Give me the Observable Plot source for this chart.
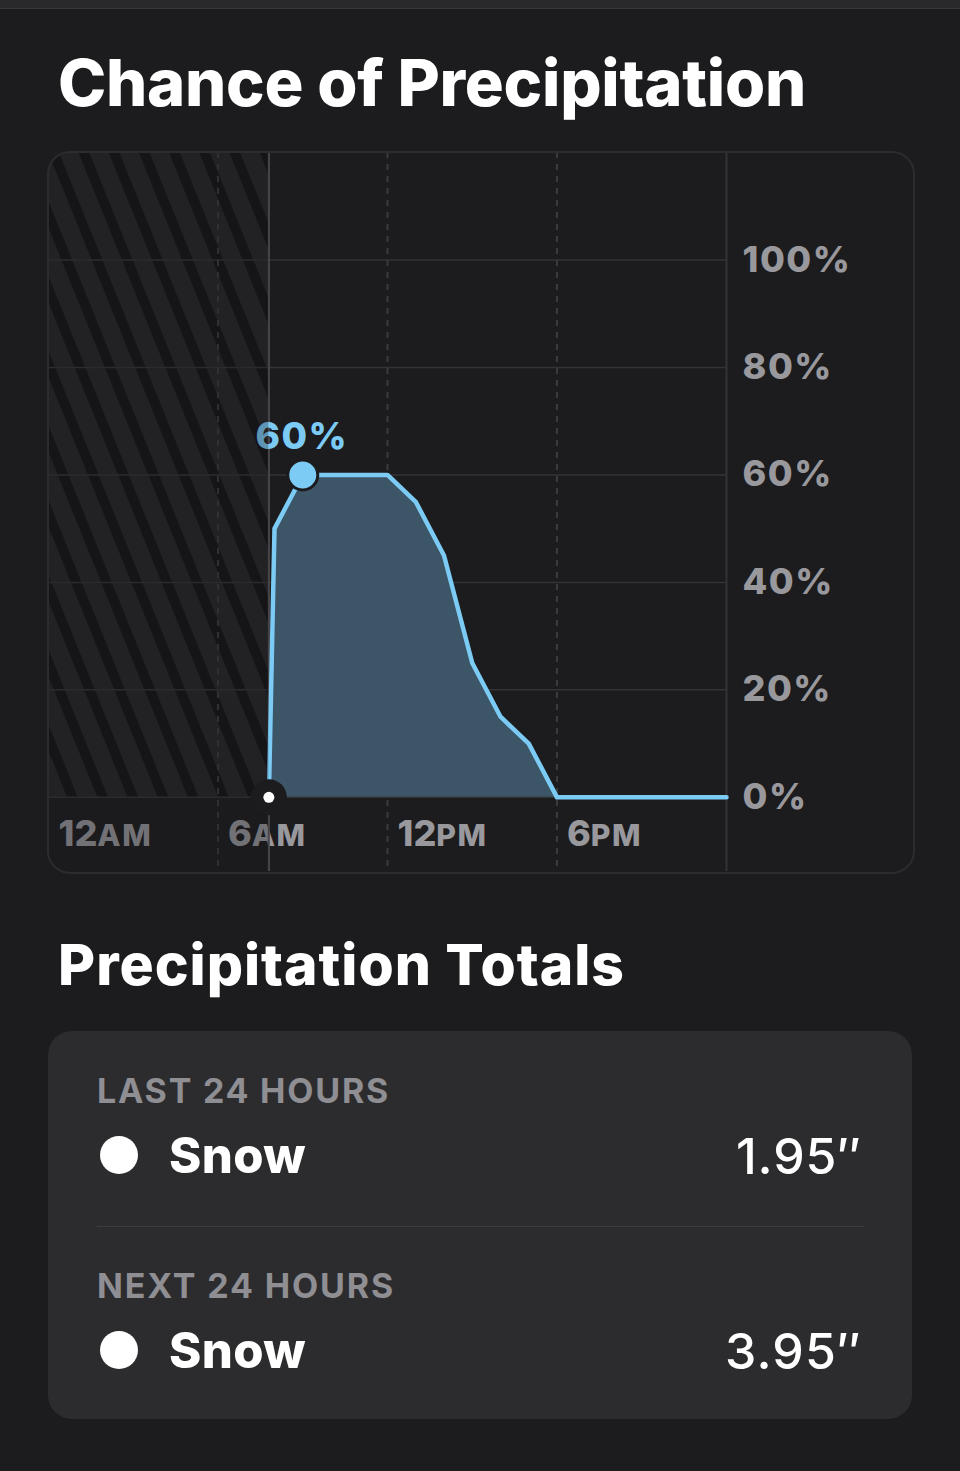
<!DOCTYPE html>
<html>
<head>
<meta charset="utf-8">
<script src="https://cdn.jsdelivr.net/npm/d3@7"></script>
<script src="https://cdn.jsdelivr.net/npm/@observablehq/plot@0.6"></script>
<style>
  html, body { margin: 0; padding: 0; }
  body { width: 960px; height: 1471px; background: #1c1c1e; position: relative; overflow: hidden; font-family: Inter, "Noto Sans", sans-serif; }
  #topbar { position: absolute; left: 0; top: 0; width: 960px; height: 8px; background: #29292b; border-bottom: 1px solid #38383a; }
  #card1 { position: absolute; left: 48px; top: 152px; width: 864px; height: 719px; border-radius: 22px; overflow: hidden; }
  #card1border { position: absolute; left: 47px; top: 151px; width: 864px; height: 719px; border-radius: 23px; border: 2px solid #2c2c2e; pointer-events: none; }
  #card2 { position: absolute; left: 48px; top: 1031px; width: 864px; height: 388px; border-radius: 24px; background: #2c2c2e; }
  .dot { position: absolute; width: 38px; height: 38px; border-radius: 50%; background: #fff; }
  .divider { position: absolute; left: 97px; top: 1226px; width: 767px; height: 1px; background: #3d3d40; }
  svg { display: block; }
</style>
</head>
<body>
<div id="topbar"></div>
<div id="card1"></div>
<div id="card1border"></div>
<div id="card2"></div>
<script>
// ---- data ----
const hours  = [7.8, 8, 9, 10, 11, 12, 13, 14, 15, 16, 17, 18, 19, 20, 21, 22, 23, 24];
const chance = [0, 50, 60, 60, 60, 60, 55, 45, 25, 15, 10, 0, 0, 0, 0, 0, 0, 0];
const nowHour = 7.8;
const peakHour = 9;
const peakValue = 60;
const peakLabel = "60%";
const xTicks = [0, 6, 12, 18];
const xTickLabels = ["12AM", "6AM", "12PM", "6PM"];
const dashedHours = [6, 12, 18];
const endHour = 24;
const yTicks = [0, 20, 40, 60, 80, 100];
const yTickLabels = ["0%", "20%", "40%", "60%", "80%", "100%"];
const totalLabels = ["LAST 24 HOURS", "NEXT 24 HOURS"];
const totalTypes = ["Snow", "Snow"];
const totalValues = [1.95, 3.95];

const series = hours.map((h, i) => ({hour: h, value: chance[i]}));
const past = [{x1: 0, x2: nowHour, y1: 0, y2: 120}];

const blue = "#7ccbf5";
const plot = Plot.plot({
  width: 864,
  height: 719,
  marginLeft: 0,
  marginRight: 186,
  marginTop: 0,
  marginBottom: 0,
  style: {background: "transparent", fontFamily: "Inter, sans-serif"},
  x: {domain: [0, 24], axis: null},
  y: {domain: [-13.8, 120], axis: null},
  marks: [
    Plot.rect(past, {x1: "x1", x2: "x2", y1: "y1", y2: "y2", fill: "url(#hatch)"}),
    Plot.ruleY(yTicks, {stroke: "#333336", strokeWidth: 1.5}),
    Plot.ruleX(dashedHours, {stroke: "#3a3a3c", strokeWidth: 2, strokeDasharray: "6,6"}),
    Plot.ruleX([endHour], {stroke: "#333336", strokeWidth: 2}),
    Plot.text(xTicks, {x: d => d, text: (d, i) => xTickLabels[i], frameAnchor: "bottom", dy: -37, dx: 10,
      textAnchor: "start", lineAnchor: "middle", fill: "#98989d", fontSize: 36, fontWeight: 800}),
    Plot.text(yTicks, {x: () => endHour, y: d => d, text: (d, i) => yTickLabels[i], dx: 16,
      textAnchor: "start", lineAnchor: "middle", fill: "#98989d", fontSize: 36, fontWeight: 800}),
    Plot.ruleX([nowHour], {stroke: "#4c4c4f", strokeWidth: 2}),
    Plot.areaY(series, {x: "hour", y: "value", fill: "#3c5567"}),
    Plot.lineY(series, {x: "hour", y: "value", stroke: blue, strokeWidth: 4.5, strokeLinejoin: "round"}),
    Plot.text([{x: peakHour, y: peakValue}], {x: "x", y: "y", text: () => peakLabel, dy: -38, dx: -1,
      lineAnchor: "middle", fill: blue, fontSize: 37, fontWeight: 800}),
    Plot.rect([{x1: 0, x2: nowHour}], {x1: "x1", x2: "x2", fill: "#1c1c1e", fillOpacity: 0.3}),
    Plot.dot([{x: peakHour, y: peakValue}], {x: "x", y: "y", r: 15, fill: blue, stroke: "#1c1c1e", strokeWidth: 3}),
    Plot.dot([{x: nowHour, y: 0}], {x: "x", y: "y", r: 18, fill: "#1c1c1e"}),
    Plot.dot([{x: nowHour, y: 0}], {x: "x", y: "y", r: 5.5, fill: "#ffffff"})
  ]
});

// hatch pattern
const svgSel = d3.select(plot);
const defs = svgSel.insert("defs", ":first-child");
const pat = defs.append("pattern").attr("id", "hatch").attr("patternUnits", "userSpaceOnUse")
  .attr("width", 28).attr("height", 28).attr("patternTransform", "rotate(-22)");
pat.append("rect").attr("width", 28).attr("height", 28).attr("fill", "#262628");
pat.append("rect").attr("width", 10).attr("height", 28).attr("fill", "#141416");

// spacing + small-caps AM/PM
svgSel.selectAll("text").each(function() {
  const t = this.textContent;
  const m = t.match(/^(\d+)(AM|PM)$/);
  if (m) {
    const s = d3.select(this);
    s.text("");
    s.append("tspan").text(m[1]);
    s.append("tspan").attr("font-size", "0.84em").attr("letter-spacing", "1.5px").text(m[2]);
  } else if (/%$/.test(t)) {
    d3.select(this).attr("letter-spacing", "1.5px");
  }
});

document.getElementById("card1").appendChild(plot);

// ---- HTML texts ----
function addText(str, o) {
  const el = document.createElement("div");
  el.textContent = str;
  Object.assign(el.style, {
    position: "absolute",
    top: (o.baseline - 0.8635 * o.size) + "px",
    left: "0px",
    font: `${o.weight} ${o.size}px Inter, sans-serif`,
    color: o.color,
    lineHeight: "1",
    whiteSpace: "nowrap"
  });
  document.body.appendChild(el);
  if (o.width) {
    const w = el.getBoundingClientRect().width;
    el.style.letterSpacing = ((o.width - w) / str.length) + "px";
  }
  const w2 = el.getBoundingClientRect().width;
  el.style.left = (o.anchor === "end" ? o.x - w2 : o.x) + "px";
  return el;
}

addText("Chance of Precipitation", {x: 58, baseline: 106, size: 65, weight: 800, color: "#ffffff", width: 748});
addText("Precipitation Totals", {x: 58, baseline: 985, size: 57, weight: 800, color: "#ffffff", width: 567});

const rowBase = [1103, 1298];
const labelWidths = [293, 298];
const valueWidths = [126, 137];
totalLabels.forEach((lab, i) => {
  const b = rowBase[i];
  addText(lab, {x: 97, baseline: b, size: 34, weight: 700, color: "#8e8e93", width: labelWidths[i]});
  const dot = document.createElement("div");
  dot.className = "dot";
  dot.style.left = "100px";
  dot.style.top = (b + 52 - 19) + "px";
  document.body.appendChild(dot);
  addText(totalTypes[i], {x: 169, baseline: b + 70, size: 49, weight: 800, color: "#ffffff", width: 137});
  addText(totalValues[i].toFixed(2) + "\u2033", {x: 862, baseline: b + 71, size: 50, weight: 500, color: "#ffffff", anchor: "end", width: valueWidths[i]});
});
const div = document.createElement("div");
div.className = "divider";
document.body.appendChild(div);
</script>
</body>
</html>
